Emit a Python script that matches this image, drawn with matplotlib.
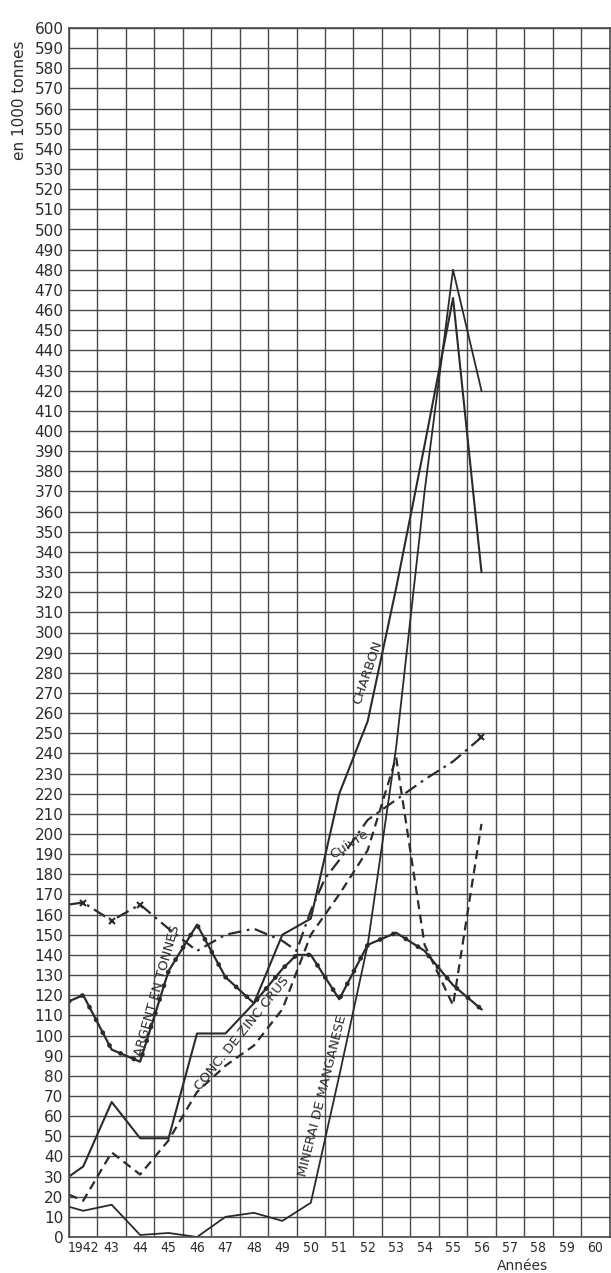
"""Production minière 1942-1956 (en 1000 tonnes)."""

import matplotlib

matplotlib.use("Agg")
from matplotlib import pyplot as plt

# data (x = year, plotted at cell centres)
charbon_years = [1941.5, 1942, 1943, 1944, 1945, 1946, 1947, 1948, 1949, 1950,
                 1951, 1952, 1953, 1954, 1955, 1956]
charbon = [30, 35, 67, 49, 49, 101, 101, 116, 150, 158, 220, 256, 322, 393, 466, 330]

manganese_years = [1941.5, 1942, 1943, 1944, 1945, 1946, 1947, 1948, 1949, 1950,
                   1951, 1952, 1953, 1954, 1955, 1956]
manganese = [15, 13, 16, 1, 2, 0, 10, 12, 8, 17, 80, 145, 243, 370, 480, 420]

zinc_years = [1941.5, 1942, 1943, 1944, 1945, 1946, 1947, 1948, 1949, 1950,
              1951, 1952, 1953, 1954, 1955, 1956]
zinc = [21, 18, 42, 31, 48, 72, 85, 95, 113, 150, 170, 192, 238, 145, 115, 205]

cuivre_years = [1941.5, 1942, 1943, 1944, 1945, 1946, 1947, 1948, 1949, 1949.5,
                1950, 1950.5, 1951, 1952, 1953, 1954, 1955, 1956]
cuivre = [165, 166, 157, 165, 153, 142, 150, 153, 147, 142, 162, 178, 187, 207,
          217, 227, 236, 248]
cuivre_marks = [1942, 1943, 1944, 1956]

argent_years = [1941.5, 1942, 1943, 1944, 1945, 1946, 1947, 1948, 1949, 1949.5,
                1950, 1951, 1952, 1953, 1954, 1955, 1956]
argent = [117, 120, 93, 87, 132, 155, 129, 116, 133, 140, 140, 118, 145, 151,
          142, 125, 113]

years = list(range(1942, 1961))
year_labels = ["1942"] + [str(y)[2:] for y in years[1:]]
y_ticks = list(range(0, 601, 10))

ink = "#2b2b2b"
grid = "#4a4a4a"

fig = plt.figure(figsize=(6.11, 12.73), dpi=100)
ax = fig.add_axes([69 / 611, 36 / 1273, 540.5 / 611, 1209 / 1273])

ax.set_xlim(1941.5, 1960.5)
ax.set_ylim(0, 600)
ax.set_xticks(years)
ax.set_xticklabels(year_labels)
ax.set_xticks([y - 0.5 for y in years] + [1960.5], minor=True)
ax.set_yticks(y_ticks)
ax.tick_params(which="both", length=0)
ax.tick_params(axis="y", labelsize=11, pad=4, colors=ink)
ax.tick_params(axis="x", labelsize=10, pad=3, colors=ink)
for lab in ax.get_xticklabels():
    lab.set_fontstretch("condensed")
ax.grid(which="minor", axis="x", color=grid, lw=1.0)
ax.grid(which="major", axis="y", color=grid, lw=1.0)
ax.grid(which="major", axis="x", visible=False)
ax.set_axisbelow(True)
for sp in ax.spines.values():
    sp.set_color(grid)
    sp.set_linewidth(1.2)

# series
ax.plot(charbon_years, charbon, color=ink, lw=1.5)
ax.plot(manganese_years, manganese, color=ink, lw=1.3)
ax.plot(zinc_years, zinc, color=ink, lw=1.6, linestyle=(0, (4, 2.5)))
ax.plot(cuivre_years, cuivre, color=ink, lw=1.6, linestyle=(0, (6, 2.5, 1.2, 2.5)))
ax.plot(cuivre_marks, [cuivre[cuivre_years.index(y)] for y in cuivre_marks],
        linestyle="none", marker="x", ms=4, mew=1.5, color=ink)
ax.plot(argent_years, argent, color=ink, lw=1.6)
ax.plot(argent_years, argent, color=ink, lw=3.4, linestyle=(0, (0.05, 3)),
        dash_capstyle="round")

# labels along the curves
lab_kw = dict(color=ink, fontsize=9.5, ha="center", va="center")
ax.text(1952.0, 280, "CHARBON", rotation=71, **lab_kw)
ax.text(1951.35, 195, "Cuivre", rotation=33, **lab_kw)
ax.text(1944.6, 122, "ARGENT EN TONNES", rotation=74, **lab_kw)
ax.text(1947.6, 101, "CONC. DE ZINC CRUS", rotation=51, **lab_kw)
ax.text(1950.4, 70, "MINERAI DE MANGANESE", rotation=76, **lab_kw)

fig.text(20 / 611, 1 - 100 / 1273, "en 1000 tonnes", rotation=90,
         ha="center", va="center", fontsize=11, color=ink)
fig.text(522 / 611, 1 - 1266 / 1273, "Années", ha="center", va="center",
         fontsize=10, color=ink)

fig.savefig("out.png", dpi=100)
